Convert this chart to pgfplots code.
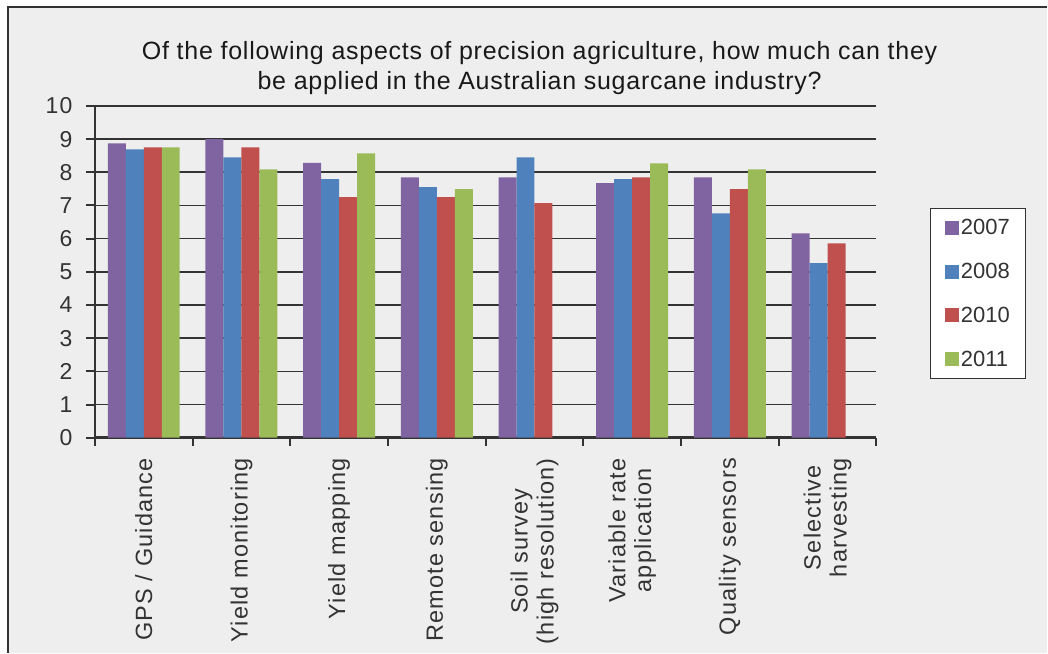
\documentclass[border=0pt]{standalone}
\usepackage{fontspec}
\setmainfont{Liberation Sans}
\newfontfamily\xlabfont[LetterSpace=5]{Liberation Sans}
\newfontfamily\titlefont[LetterSpace=3]{Liberation Sans}
\usepackage{pgfplots}
\pgfplotsset{compat=1.18}
\definecolor{c07}{HTML}{8064A2}
\definecolor{c08}{HTML}{4F81BD}
\definecolor{c10}{HTML}{C0504D}
\definecolor{c11}{HTML}{9BBB59}
\definecolor{bgc}{HTML}{EEEEEE}
\definecolor{ink}{HTML}{333333}
\begin{document}
\begin{tikzpicture}
\fill[white] (0pt,0pt) rectangle (1048pt,653pt);
\fill[bgc] (8pt,0pt) rectangle (1048pt,646pt);
\draw[ink, line width=1.5pt] (8pt,0pt) -- (8pt,646pt) -- (1048pt,646pt);
\node[anchor=base, text=black!90, font=\titlefont\fontsize{25}{28}\selectfont] at (540pt,593pt) {Of the following aspects of precision agriculture, how much can they};
\node[anchor=base, text=black!90, font=\titlefont\fontsize{25}{28}\selectfont] at (540pt,563pt) {be applied in the Australian sugarcane industry?};
\begin{axis}[
  at={(95pt,215pt)}, anchor=south west,
  scale only axis, width=782pt, height=332pt,
  ybar=0pt, bar width=18pt,
  ymin=0, ymax=10, ytick={0,...,10},
  xmin=-0.5, xmax=7.5,
  axis x line=bottom, axis y line=left,
  axis line style={-, ink, line width=2.5pt},
  tick align=outside,
  xtick={0,...,7},
  xticklabels={GPS / Guidance, Yield monitoring, Yield mapping, Remote sensing, {Soil survey\\(high resolution)}, {Variable rate\\application}, Quality sensors, {Selective\\harvesting}},
  minor xtick={-0.5,0.5,...,7.5},
  major x tick style={draw=none},
  minor x tick style={ink, line width=2pt},
  minor tick length=8pt,
  ytick style={ink, line width=2pt},
  major tick length=9pt,
  ymajorgrids,
  major grid style={ink, line width=1.6pt},
  /pgf/number format/assume math mode=true,
  yticklabel style={text=ink, font=\xlabfont\fontsize{23}{26}\selectfont, xshift=-10pt},
  xticklabel style={rotate=90, anchor=east, align=center, text=ink, font=\xlabfont\fontsize{23.5}{26}\selectfont, xshift=-8pt},
  legend image code/.code={\fill[#1] (0pt,-7pt) rectangle (14pt,7pt);},
  legend style={at={(1.069,0.693)}, anchor=north west, draw=ink, line width=1.2pt, fill=white, text=ink,
    font=\fontsize{22}{26}\selectfont, row sep=23pt, inner xsep=14pt, inner ysep=9pt},
  legend cell align=left,
]
\addplot[fill=c07, draw=none] coordinates {(0,8.87) (1,9.00) (2,8.28) (3,7.85) (4,7.85) (5,7.67) (6,7.85) (7,6.16)};
\addplot[fill=c08, draw=none] coordinates {(0,8.69) (1,8.45) (2,7.79) (3,7.55) (4,8.45) (5,7.79) (6,6.76) (7,5.26)};
\addplot[fill=c10, draw=none] coordinates {(0,8.75) (1,8.75) (2,7.25) (3,7.25) (4,7.07) (5,7.85) (6,7.49) (7,5.86)};
\addplot[fill=c11, draw=none] coordinates {(0,8.75) (1,8.09) (2,8.57) (3,7.49) (5,8.27) (6,8.09)};
\legend{2007,2008,2010,2011}
\end{axis}
\end{tikzpicture}
\end{document}
